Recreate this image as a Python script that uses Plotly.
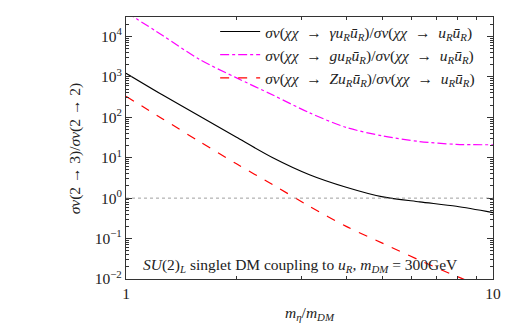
import plotly.graph_objects as go

# m_eta / m_DM and the three ratio curves
x_gamma = [1.0, 1.259, 1.585, 1.995, 2.512, 3.162, 3.981, 5.012, 6.310, 7.943, 10.0]
y_gamma = [1230, 355, 107, 32.4, 10.0, 3.80, 1.86, 1.07, 0.81, 0.63, 0.44]

x_gluon = [1.0, 1.259, 1.585, 1.995, 2.512, 3.162, 3.981, 5.012, 6.310, 7.943, 10.0]
y_gluon = [40000, 10500, 2700, 955, 355, 129, 56, 34.5, 25.1, 21.4, 20.9]

x_z = [1.0, 1.259, 1.585, 1.995, 2.512, 3.162, 3.981, 5.012, 6.310, 7.943, 8.51]
y_z = [331, 91, 25.1, 7.16, 2.14, 0.63, 0.20, 0.076, 0.029, 0.0117, 0.0091]

ref_level = 1.0

y_tickvals = [1e-2, 1e-1, 1, 10, 100, 1e3, 1e4]
y_ticktext = ['10<sup>−2</sup>', '10<sup>−1</sup>', '10<sup>0</sup>', '10<sup>1</sup>',
              '10<sup>2</sup>', '10<sup>3</sup>', '10<sup>4</sup>']
x_tickvals = [1, 10]
x_ticktext = ['1', '10']

FONT = "'Liberation Serif', 'DejaVu Serif', serif"
INK = '#222'
FS = 15.5
ARR = '\u2002→\u2002'

den = f'/<i>σv</i>(<i>χχ</i>{ARR}<i>u</i><sub><i>R</i></sub><i>ū</i><sub><i>R</i></sub>)'
names = [
    f'<i>σv</i>(<i>χχ</i>{ARR}<i>γu</i><sub><i>R</i></sub><i>ū</i><sub><i>R</i></sub>)' + den,
    f'<i>σv</i>(<i>χχ</i>{ARR}<i>gu</i><sub><i>R</i></sub><i>ū</i><sub><i>R</i></sub>)' + den,
    f'<i>σv</i>(<i>χχ</i>{ARR}<i>Zu</i><sub><i>R</i></sub><i>ū</i><sub><i>R</i></sub>)' + den,
]

fig = go.Figure()
fig.add_trace(go.Scatter(x=x_gamma, y=y_gamma, name=names[0], mode='lines',
                         line=dict(color='black', width=1.2, shape='spline', smoothing=0.8)))
fig.add_trace(go.Scatter(x=x_gluon, y=y_gluon, name=names[1], mode='lines',
                         line=dict(color='#ff00ff', width=1.2, dash='dashdot', shape='spline',
                                   smoothing=0.8)))
fig.add_trace(go.Scatter(x=x_z, y=y_z, name=names[2], mode='lines',
                         line=dict(color='#ff0000', width=1.2, dash='dash', shape='spline',
                                   smoothing=0.8)))
fig.add_hline(y=ref_level, line=dict(color='#888', width=0.8, dash='dot'))

fig.add_annotation(
    xref='paper', yref='paper', x=0.041, y=0.05, xanchor='left', yanchor='middle',
    text='<i>SU</i>(2)<sub><i>L</i></sub> singlet DM coupling to <i>u</i><sub><i>R</i></sub>, '
         '<i>m</i><sub><i>DM</i></sub> = 300GeV',
    showarrow=False, font=dict(size=FS, color=INK, family=FONT),
)
fig.add_annotation(
    xref='paper', yref='paper', x=-0.138, y=0.5, xanchor='center', yanchor='middle',
    text='<i>σv</i>(2 → 3)/<i>σv</i>(2 → 2)', textangle=-90,
    showarrow=False, font=dict(size=FS, color=INK, family=FONT),
)

axis_common = dict(
    type='log', showline=True, linecolor='#333', linewidth=1.2, mirror='allticks',
    ticks='inside', ticklen=6, tickcolor='#333', showgrid=False, zeroline=False,
    automargin=False, tickfont=dict(size=FS, color=INK, family=FONT),
    minor=dict(ticks='inside', ticklen=3, tickcolor='#333', dtick='D1', showgrid=False),
)
fig.update_xaxes(**axis_common, range=[0, 1], tickvals=x_tickvals, ticktext=x_ticktext,
                 title=dict(text='<i>m</i><sub><i>η</i></sub>/<i>m</i><sub><i>DM</i></sub>',
                            font=dict(size=FS, color=INK, family=FONT), standoff=6))
fig.update_yaxes(**axis_common, range=[-2, 4.48], tickvals=y_tickvals, ticktext=y_ticktext)

# page body adds an 8px margin, so the figure is 8px smaller than the window
fig.update_layout(
    width=512, height=318,
    margin=dict(l=118, r=27, t=9, b=47, autoexpand=False),
    plot_bgcolor='white', paper_bgcolor='white',
    font=dict(family=FONT, color=INK, size=FS),
    legend=dict(x=0.965, xanchor='right', y=1.008, yanchor='top',
                bgcolor='rgba(0,0,0,0)', font=dict(size=FS, color=INK, family=FONT),
                tracegroupgap=0, itemwidth=40),
    showlegend=True,
)

fig.write_html('out.html')
